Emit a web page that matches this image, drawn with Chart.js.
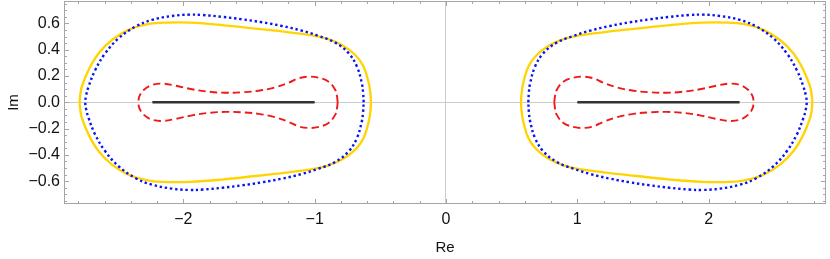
<!DOCTYPE html>
<html>
<head>
<meta charset="utf-8">
<script src="https://cdn.jsdelivr.net/npm/chart.js@4/dist/chart.umd.min.js"></script>
<style>
  html, body { margin: 0; padding: 0; background: #fff; }
  #wrap { width: 830px; height: 259px; }
</style>
</head>
<body>
<div id="wrap"><canvas id="regionChart" width="830" height="259"></canvas></div>
<script>
// Curves, [Re, Im] pairs, each a closed loop
const goldRight = [[0.571,0],[0.576,0.07],[0.588,0.145],[0.627,0.271],[0.691,0.36],[0.792,0.436],[0.894,0.48],[0.995,0.505],[1.198,0.533],[1.452,0.561],[1.706,0.588],[1.95,0.606],[2.12,0.607],[2.264,0.596],[2.417,0.551],[2.544,0.474],[2.645,0.373],[2.722,0.246],[2.773,0.119],[2.786,0.05],[2.79,0],
  [2.786,-0.05],[2.773,-0.119],[2.722,-0.246],[2.645,-0.373],[2.544,-0.474],[2.417,-0.551],[2.264,-0.596],[2.12,-0.607],[1.95,-0.606],[1.706,-0.588],[1.452,-0.561],[1.198,-0.533],[0.995,-0.505],[0.894,-0.48],[0.792,-0.436],[0.691,-0.36],[0.627,-0.271],[0.588,-0.145],[0.576,-0.07],[0.571,0]];
const goldLeft = [[-0.571,0],[-0.576,0.07],[-0.588,0.145],[-0.627,0.271],[-0.691,0.36],[-0.792,0.436],[-0.894,0.48],[-0.995,0.505],[-1.198,0.533],[-1.452,0.561],[-1.706,0.588],[-1.95,0.606],[-2.12,0.607],[-2.264,0.596],[-2.417,0.551],[-2.544,0.474],[-2.645,0.373],[-2.722,0.246],[-2.773,0.119],[-2.786,0.05],[-2.79,0],
  [-2.786,-0.05],[-2.773,-0.119],[-2.722,-0.246],[-2.645,-0.373],[-2.544,-0.474],[-2.417,-0.551],[-2.264,-0.596],[-2.12,-0.607],[-1.95,-0.606],[-1.706,-0.588],[-1.452,-0.561],[-1.198,-0.533],[-0.995,-0.505],[-0.894,-0.48],[-0.792,-0.436],[-0.691,-0.36],[-0.627,-0.271],[-0.588,-0.145],[-0.576,-0.07],[-0.571,0]];

const blueRight = [[0.627,0],[0.631,0.07],[0.641,0.145],[0.678,0.271],[0.741,0.373],[0.843,0.454],[0.97,0.505],[1.097,0.545],[1.249,0.581],[1.401,0.609],[1.554,0.632],[1.70,0.65],[1.85,0.664],[1.96,0.667],[2.087,0.657],[2.239,0.627],[2.366,0.576],[2.493,0.487],[2.595,0.373],[2.671,0.246],[2.722,0.119],[2.741,0.05],[2.747,0],
  [2.741,-0.05],[2.722,-0.119],[2.671,-0.246],[2.595,-0.373],[2.493,-0.487],[2.366,-0.576],[2.239,-0.627],[2.087,-0.657],[1.96,-0.667],[1.85,-0.664],[1.70,-0.65],[1.554,-0.632],[1.401,-0.609],[1.249,-0.581],[1.097,-0.545],[0.97,-0.505],[0.843,-0.454],[0.741,-0.373],[0.678,-0.271],[0.641,-0.145],[0.631,-0.07],[0.627,0]];
const blueLeft = [[-0.627,0],[-0.631,0.07],[-0.641,0.145],[-0.678,0.271],[-0.741,0.373],[-0.843,0.454],[-0.97,0.505],[-1.097,0.545],[-1.249,0.581],[-1.401,0.609],[-1.554,0.632],[-1.70,0.65],[-1.85,0.664],[-1.96,0.667],[-2.087,0.657],[-2.239,0.627],[-2.366,0.576],[-2.493,0.487],[-2.595,0.373],[-2.671,0.246],[-2.722,0.119],[-2.741,0.05],[-2.747,0],
  [-2.741,-0.05],[-2.722,-0.119],[-2.671,-0.246],[-2.595,-0.373],[-2.493,-0.487],[-2.366,-0.576],[-2.239,-0.627],[-2.087,-0.657],[-1.96,-0.667],[-1.85,-0.664],[-1.70,-0.65],[-1.554,-0.632],[-1.401,-0.609],[-1.249,-0.581],[-1.097,-0.545],[-0.97,-0.505],[-0.843,-0.454],[-0.741,-0.373],[-0.678,-0.271],[-0.641,-0.145],[-0.631,-0.07],[-0.627,0]];

const redRight = [[0.825,0],[0.83,0.045],[0.843,0.094],[0.894,0.157],[0.97,0.187],[1.046,0.195],[1.122,0.183],[1.198,0.149],[1.30,0.114],[1.427,0.088],[1.554,0.076],[1.68,0.073],[1.80,0.08],[1.934,0.099],[2.062,0.127],[2.163,0.142],[2.239,0.132],[2.302,0.094],[2.336,0.043],[2.341,0],
  [2.336,-0.043],[2.302,-0.094],[2.239,-0.132],[2.163,-0.142],[2.062,-0.127],[1.934,-0.099],[1.80,-0.08],[1.68,-0.073],[1.554,-0.076],[1.427,-0.088],[1.30,-0.114],[1.198,-0.149],[1.122,-0.183],[1.046,-0.195],[0.97,-0.187],[0.894,-0.157],[0.843,-0.094],[0.83,-0.045],[0.825,0]];
const redLeft = [[-0.825,0],[-0.83,0.045],[-0.843,0.094],[-0.894,0.157],[-0.97,0.187],[-1.046,0.195],[-1.122,0.183],[-1.198,0.149],[-1.30,0.114],[-1.427,0.088],[-1.554,0.076],[-1.68,0.073],[-1.80,0.08],[-1.934,0.099],[-2.062,0.127],[-2.163,0.142],[-2.239,0.132],[-2.302,0.094],[-2.336,0.043],[-2.341,0],
  [-2.336,-0.043],[-2.302,-0.094],[-2.239,-0.132],[-2.163,-0.142],[-2.062,-0.127],[-1.934,-0.099],[-1.80,-0.08],[-1.68,-0.073],[-1.554,-0.076],[-1.427,-0.088],[-1.30,-0.114],[-1.198,-0.149],[-1.122,-0.183],[-1.046,-0.195],[-0.97,-0.187],[-0.894,-0.157],[-0.843,-0.094],[-0.83,-0.045],[-0.825,0]];

// the two cuts on the real axis
const cutRight = [[1,0],[2.236,0]];
const cutLeft = [[-2.236,0],[-1,0]];

const xTickValues = [-2, -1, 0, 1, 2];
const yTickValues = [-0.6, -0.4, -0.2, 0, 0.2, 0.4, 0.6];

const toPoints = arr => arr.map(p => ({ x: p[0], y: p[1] }));
const minus = s => s.replace('-', '\u2212');

function curve(data, color, width, dash, order, tension) {
    return {
        data: toPoints(data),
        showLine: true,
        borderColor: color,
        borderWidth: width,
        borderDash: dash,
        pointRadius: 0,
        tension: tension,
        order: order
    };
}

// frame with inward ticks on all four sides, Mathematica style
const frameTicks = {
    id: 'frameTicks',
    afterDraw(chart) {
        const { ctx, chartArea: a, scales: { x, y } } = chart;
        ctx.save();
        ctx.strokeStyle = '#a6a6a6';
        ctx.lineWidth = 1;
        ctx.strokeRect(a.left + 0.5, a.top + 0.5, a.right - a.left - 1, a.bottom - a.top - 1);
        ctx.beginPath();
        for (let i = -15; i <= 15; i++) {
            const v = i / 5;
            if (v < x.min || v > x.max) continue;
            const px = Math.round(x.getPixelForValue(v)) + 0.5;
            const len = i % 5 === 0 ? 5 : 3;
            ctx.moveTo(px, a.bottom); ctx.lineTo(px, a.bottom - len);
            ctx.moveTo(px, a.top); ctx.lineTo(px, a.top + len);
        }
        for (let i = -16; i <= 16; i++) {
            const v = i / 20;
            if (v < y.min || v > y.max) continue;
            const py = Math.round(y.getPixelForValue(v)) + 0.5;
            const len = i % 4 === 0 ? 5 : 3;
            ctx.moveTo(a.left, py); ctx.lineTo(a.left + len, py);
            ctx.moveTo(a.right, py); ctx.lineTo(a.right - len, py);
        }
        ctx.stroke();
        ctx.restore();
    }
};

const ctx = document.getElementById('regionChart').getContext('2d');
new Chart(ctx, {
    type: 'scatter',
    data: {
        datasets: [
            curve(goldRight, '#ffd400', 2.3, [], 4, 0.4),
            curve(goldLeft, '#ffd400', 2.3, [], 4, 0.4),
            curve(blueRight, '#0a14f0', 2.4, [2.4, 2.8], 3, 0.4),
            curve(blueLeft, '#0a14f0', 2.4, [2.4, 2.8], 3, 0.4),
            curve(redRight, '#f01818', 1.9, [7.5, 4], 2, 0.4),
            curve(redLeft, '#f01818', 1.9, [7.5, 4], 2, 0.4),
            curve(cutRight, '#333333', 2.4, [], 1, 0),
            curve(cutLeft, '#333333', 2.4, [], 1, 0)
        ]
    },
    options: {
        responsive: false,
        animation: false,
        devicePixelRatio: 1,
        layout: { padding: { top: 1, right: 4, left: 0, bottom: 0 } },
        plugins: { legend: { display: false }, tooltip: { enabled: false } },
        scales: {
            x: {
                type: 'linear',
                min: -2.909,
                max: 2.894,
                afterFit: s => { s.height = 55; s.paddingLeft = 0; s.paddingRight = 0; },
                afterBuildTicks: s => { s.ticks = xTickValues.map(v => ({ value: v })); },
                grid: {
                    drawTicks: false,
                    color: c => (c.tick && Math.abs(c.tick.value) < 1e-9) ? '#cccccc' : 'rgba(0,0,0,0)'
                },
                border: { display: false },
                ticks: {
                    padding: 6,
                    color: '#111',
                    font: { family: 'Liberation Sans', size: 16 },
                    callback: v => minus(String(v))
                },
                title: {
                    display: true,
                    text: 'Re',
                    color: '#111',
                    font: { family: 'Liberation Sans', size: 15 },
                    padding: { top: 0, bottom: 2 }
                }
            },
            y: {
                type: 'linear',
                min: -0.774,
                max: 0.771,
                afterFit: s => { s.width = 64; s.paddingTop = 0; s.paddingBottom = 0; },
                afterBuildTicks: s => { s.ticks = yTickValues.map(v => ({ value: v })); },
                grid: {
                    drawTicks: false,
                    color: c => (c.tick && Math.abs(c.tick.value) < 1e-9) ? '#cccccc' : 'rgba(0,0,0,0)'
                },
                border: { display: false },
                ticks: {
                    padding: 4,
                    color: '#111',
                    font: { family: 'Liberation Sans', size: 16 },
                    callback: v => minus(v.toFixed(1))
                },
                title: {
                    display: true,
                    text: 'Im',
                    color: '#111',
                    font: { family: 'Liberation Sans', size: 15 },
                    padding: { top: 5, bottom: 0 }
                }
            }
        }
    },
    plugins: [frameTicks]
});
</script>
</body>
</html>
